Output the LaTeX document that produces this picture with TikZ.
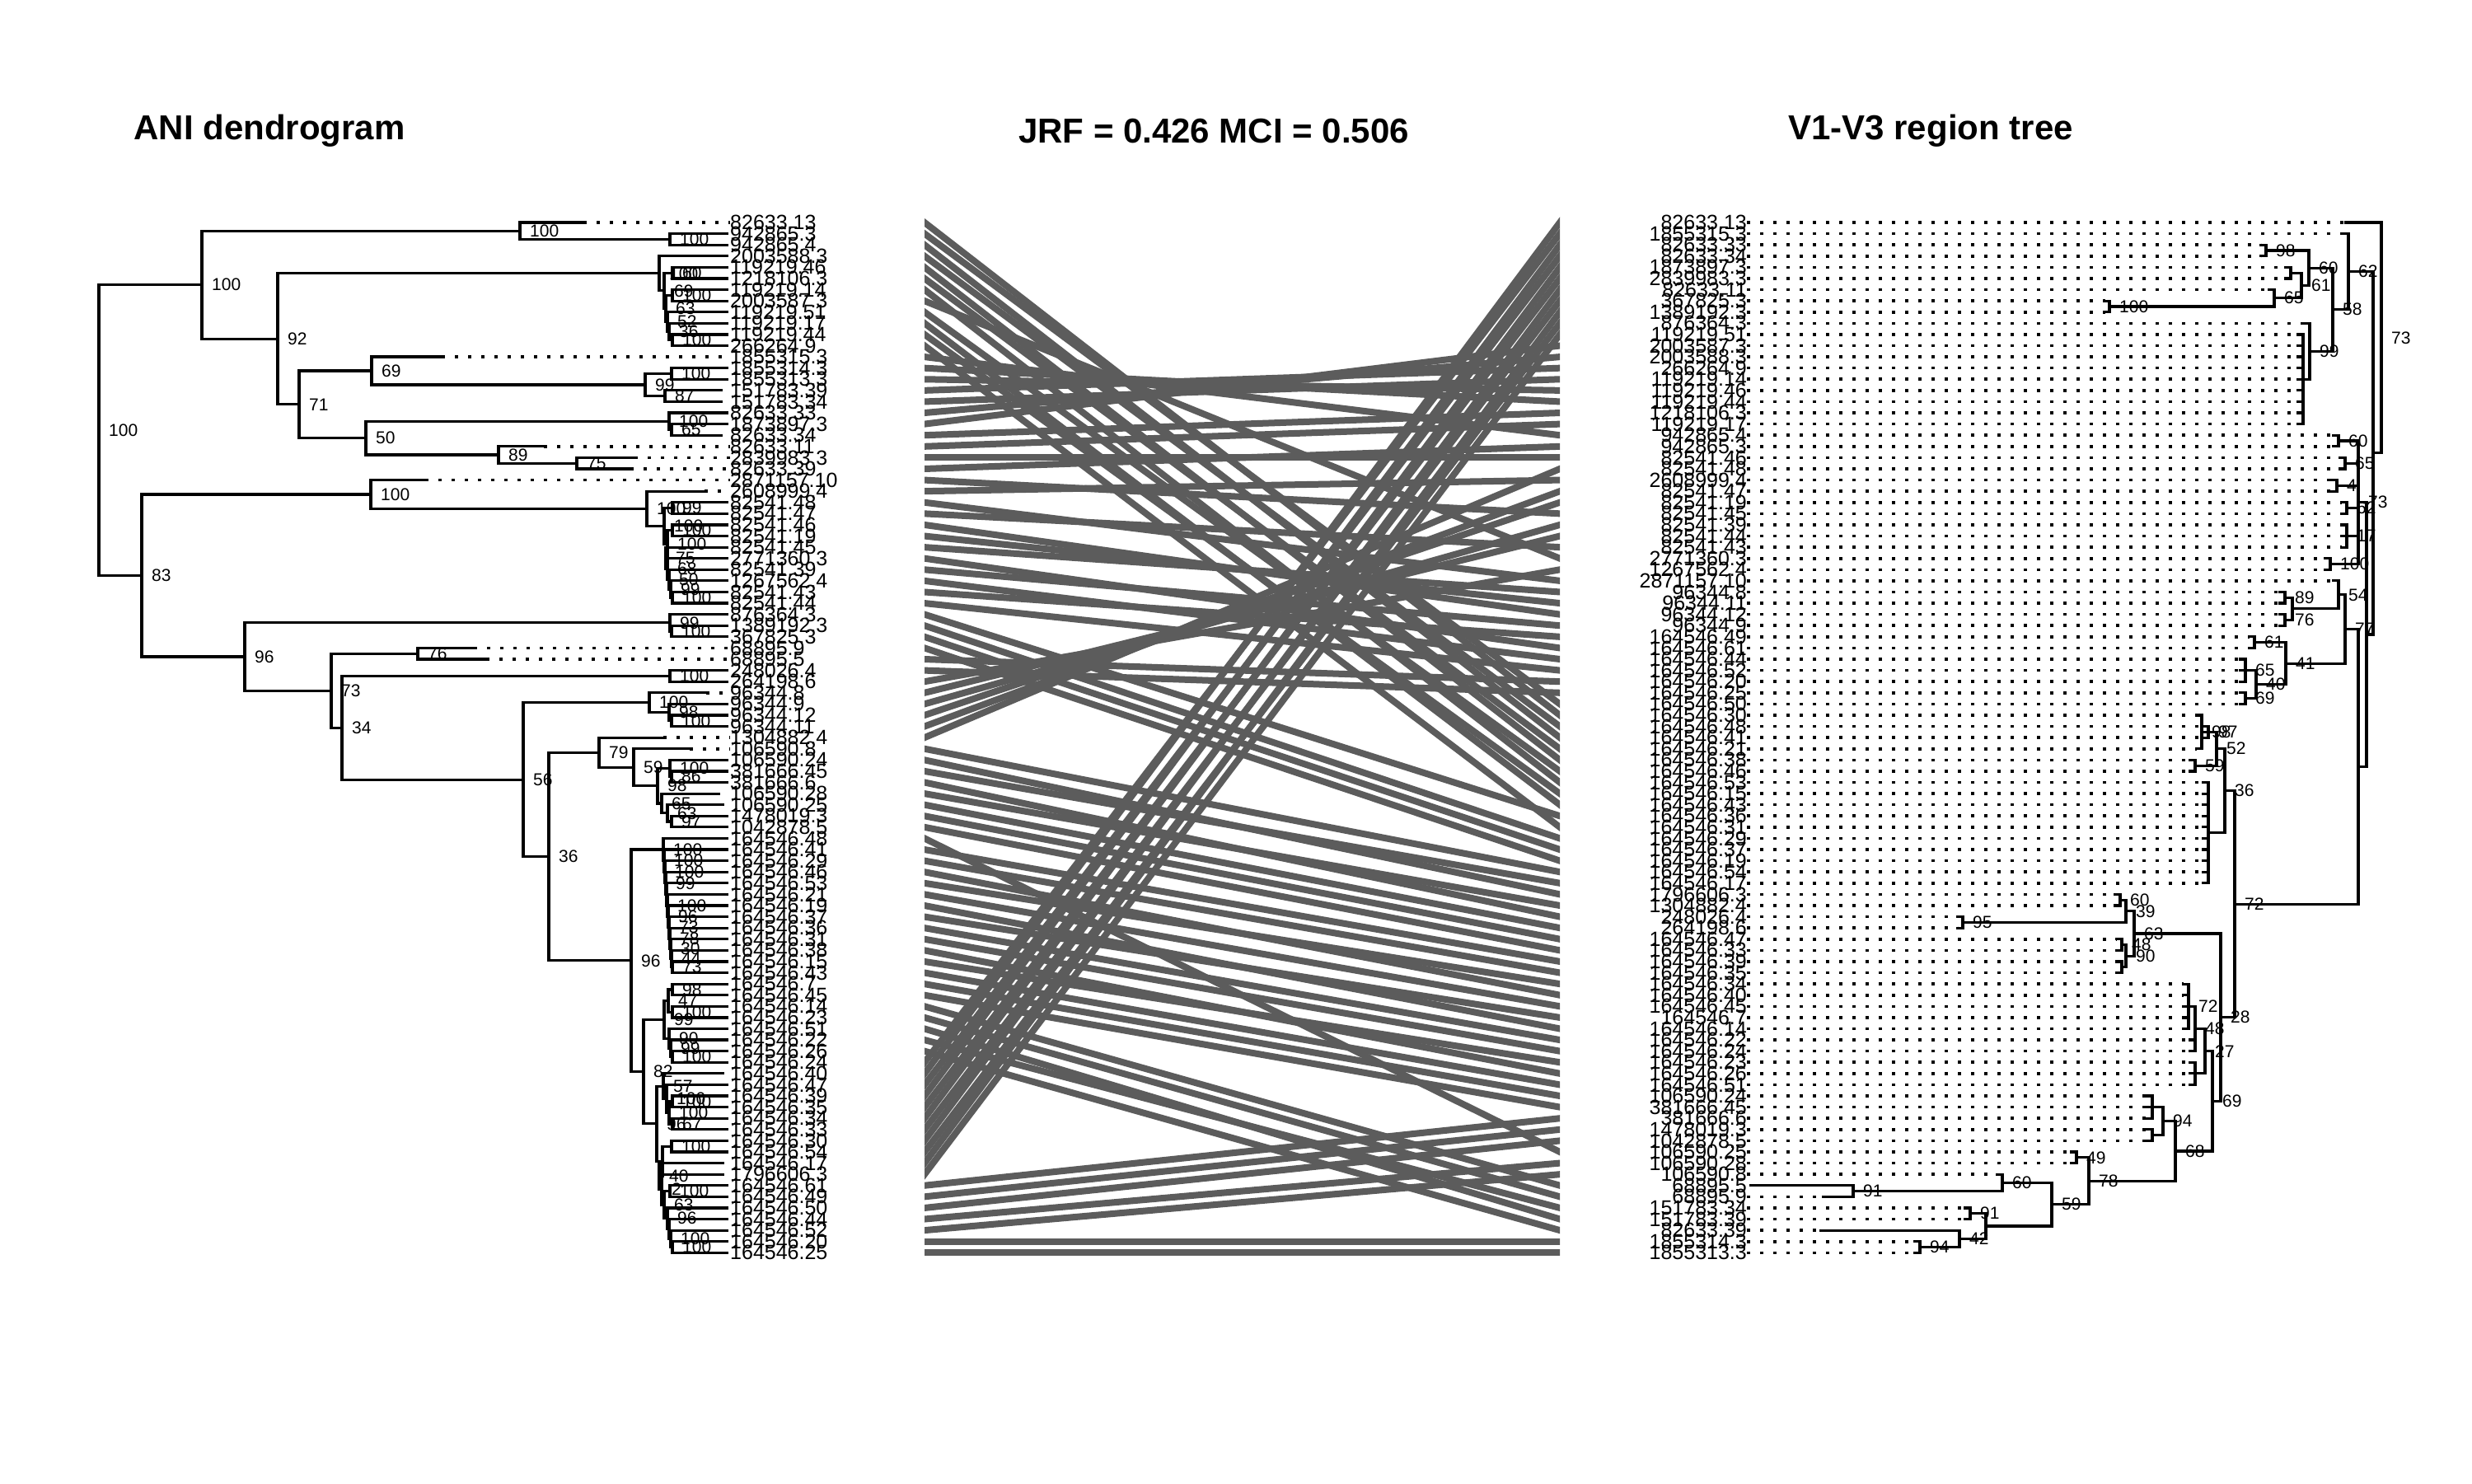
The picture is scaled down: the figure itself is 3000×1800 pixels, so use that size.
\documentclass[tikz,border=0pt]{standalone}
\usepackage{fontspec}
\setmainfont{Liberation Sans}
\usetikzlibrary{calc}
\definecolor{linkgray}{RGB}{92,92,92}
\tikzset{
  branch/.style={line width=3.2pt, line cap=rect},
  tipdots/.style={line width=3.6pt, dash pattern=on 3.6pt off 12.4pt},
  tiplab/.style={font=\fontsize{25}{25}\selectfont, inner sep=0pt},
  support/.style={font=\fontsize{21}{21}\selectfont, inner sep=0pt, anchor=west},
  link/.style={line width=8pt, draw=linkgray, shorten <=-14pt, shorten >=-14pt},
  paneltitle/.style={font=\fontsize{42}{42}\selectfont\bfseries}
}
\newcommand\lnode[6]{%
  \path let \p1=(#3), \p2=(#4) in coordinate (#1) at (#2pt,{0.5*(\y1+\y2)});
  \draw[branch] (#1 |- #3) -- (#1 |- #4);
  \foreach \c in {#5} {\draw[branch] (#1 |- \c) -- (\c);}
  \node[support] at ([xshift=12pt]#1) {#6};
}
\begin{document}
\begin{tikzpicture}[x=1pt, y=-1pt]
\useasboundingbox (0,0) rectangle (3000,1800);

\node[paneltitle] (t1) at (327,159) {ANI dendrogram};
\node[paneltitle] (t2) at (1473,159) {JRF = 0.426 MCI = 0.506};
\node[paneltitle] (t3) at (2343,159) {V1-V3 region tree};

\foreach \leafname/\leafx [count=\i] in {82633.13/708, 942865.3/882, 942865.4/882, 2003588.3/882, 119219.46/882, 1218106.3/882, 119219.14/882, 2003587.3/882, 119219.51/882, 119219.17/882, 119219.44/882, 266264.9/882, 1855315.3/536, 1855314.3/882, 1855313.3/882, 151783.39/875, 151783.34/875, 82633.33/882, 1873897.3/882, 82633.34/875, 82633.11/660, 2839983.3/770, 82633.39/765, 2871157.10/516, 2608999.4/855, 82541.48/882, 82541.47/882, 82541.46/882, 82541.19/882, 82541.45/882, 2771360.3/882, 82541.39/882, 1267562.4/882, 82541.43/882, 82541.44/882, 876364.3/882, 1389192.3/882, 367825.3/882, 68895.9/575, 68895.5/590, 248026.4/882, 264198.6/882, 96344.8/857, 96344.9/882, 96344.12/882, 96344.11/882, 1304882.4/805, 106590.8/837, 106590.24/882, 381666.45/882, 381666.6/882, 106590.28/872, 106590.25/877, 1478019.3/882, 1042878.5/882, 164546.48/882, 164546.41/882, 164546.29/882, 164546.46/882, 164546.53/882, 164546.21/882, 164546.19/882, 164546.37/882, 164546.36/882, 164546.31/882, 164546.38/882, 164546.15/882, 164546.43/882, 164546.7/882, 164546.45/882, 164546.14/882, 164546.23/882, 164546.51/882, 164546.22/882, 164546.26/882, 164546.24/882, 164546.40/877, 164546.47/882, 164546.39/882, 164546.35/882, 164546.34/882, 164546.33/882, 164546.30/882, 164546.54/882, 164546.17/877, 1796606.3/877, 164546.61/882, 164546.49/882, 164546.50/882, 164546.44/882, 164546.52/882, 164546.20/882, 164546.25/882}{
  \coordinate (l\i) at (\leafx,{270+13.59*(\i-1)});
  \coordinate (lend\i) at (1122,{270+13.59*(\i-1)});
  \node[tiplab, anchor=west] (ln\i) at (886,{270+13.59*(\i-1)}) {\leafname};
  \ifnum\leafx<870 \draw[tipdots] (l\i) -- (ln\i.west); \fi
}

\foreach \leafname/\leafx [count=\i] in {82633.13/2847, 1855315.3/2842, 82633.33/2744, 82633.34/2744, 1873897.3/2774, 2839983.3/2774, 82633.11/2754, 367825.3/2555, 1389192.3/2555, 876364.3/2797, 119219.51/2789, 2003587.3/2789, 2003588.3/2789, 266264.9/2789, 119219.14/2789, 119219.46/2789, 119219.44/2789, 1218106.3/2789, 119219.17/2789, 942865.4/2832, 942865.3/2832, 82541.46/2840, 82541.48/2840, 2608999.4/2830, 82541.47/2830, 82541.19/2842, 82541.45/2842, 82541.39/2842, 82541.44/2842, 82541.43/2842, 2771360.3/2822, 1267562.4/2822, 2871157.10/2832, 96344.8/2767, 96344.11/2767, 96344.12/2767, 96344.9/2767, 164546.49/2730, 164546.61/2730, 164546.44/2719, 164546.52/2719, 164546.20/2719, 164546.25/2719, 164546.50/2719, 164546.30/2666, 164546.48/2674, 164546.41/2674, 164546.21/2666, 164546.38/2658, 164546.46/2658, 164546.53/2674, 164546.15/2674, 164546.43/2674, 164546.36/2674, 164546.31/2674, 164546.29/2674, 164546.37/2674, 164546.19/2674, 164546.54/2674, 164546.17/2674, 1796606.3/2567, 1304882.4/2567, 248026.4/2376, 264198.6/2376, 164546.47/2569, 164546.33/2569, 164546.39/2569, 164546.35/2569, 164546.34/2650, 164546.40/2650, 164546.45/2650, 164546.7/2650, 164546.14/2650, 164546.22/2658, 164546.24/2658, 164546.23/2658, 164546.26/2658, 164546.51/2658, 106590.24/2606, 381666.45/2606, 381666.6/2606, 1478019.3/2606, 1042878.5/2606, 106590.25/2514, 106590.28/2514, 106590.8/2424, 68895.5/2125, 68895.9/2213, 151783.34/2385, 151783.39/2385, 82633.39/2210, 1855314.3/2324, 1855313.3/2324}{
  \coordinate (r\i) at (\leafx,{270+13.59*(\i-1)});
  \coordinate (rend\i) at (1893,{270+13.59*(\i-1)});
  \node[tiplab, anchor=east] (rn\i) at (2120,{270+13.59*(\i-1)}) {\leafname};
  \ifnum\leafx>2135 \draw[tipdots] (rn\i.east) -- (r\i); \fi
}

\lnode{a1}{813}{l2}{l3}{l2,l3}{100}
\lnode{a0}{631}{l1}{a1}{l1,a1}{100}
\lnode{b78}{816}{l7}{l8}{l7,l8}{100}
\lnode{b1112}{816}{l11}{l12}{l11,l12}{100}
\lnode{b10}{812}{l10}{b1112}{l10,b1112}{36}
\lnode{b9}{810}{l9}{b10}{l9,b10}{52}
\lnode{b7}{808}{b78}{b9}{b78,b9}{63}
\lnode{b56}{816}{l5}{l6}{l5,l6}{60}
\lnode{b5}{806}{b56}{b7}{b56,b7}{69}
\lnode{b4}{800}{l4}{b5}{l4,b5}{100}
\lnode{c1415}{815}{l14}{l15}{l14,l15}{100}
\lnode{c1617}{807}{l16}{l17}{l16,l17}{87}
\lnode{c14}{783}{c1415}{c1617}{c1415,c1617}{99}
\lnode{c13}{451}{l13}{c14}{l13,c14}{69}
\lnode{d1920}{815}{l19}{l20}{l19,l20}{65}
\lnode{d18}{812}{l18}{d1920}{l18,d1920}{100}
\lnode{d2223}{700}{l22}{l23}{l22,l23}{75}
\lnode{d21}{605}{l21}{d2223}{l21,d2223}{89}
\lnode{d50}{444}{d18}{d21}{d18,d21}{50}
\lnode{n71}{363}{c13}{d50}{c13,d50}{71}
\lnode{n92}{337}{b4}{n71}{b4,n71}{92}
\lnode{nA}{245}{a0}{n92}{a0,n92}{100}
\lnode{e3435}{816}{l34}{l35}{l34,l35}{100}
\lnode{e33}{814}{l33}{e3435}{l33,e3435}{99}
\lnode{e32}{812}{l32}{e33}{l32,e33}{50}
\lnode{e31}{810}{l31}{e32}{l31,e32}{68}
\lnode{e30}{808}{l30}{e31}{l30,e31}{75}
\lnode{e2829}{816}{l28}{l29}{l28,l29}{100}
\lnode{e28}{810}{e2829}{e30}{e2829,e30}{100}
\lnode{e2627}{816}{l26}{l27}{l26,l27}{99}
\lnode{e26}{806}{e2627}{e28}{e2627,e28}{100}
\lnode{e25}{785}{l25}{e26}{l25,e26}{100}
\lnode{e24}{450}{l24}{e25}{l24,e25}{100}
\lnode{f3738}{815}{l37}{l38}{l37,l38}{100}
\lnode{f36}{813}{l36}{f3738}{l36,f3738}{99}
\lnode{g3940}{507}{l39}{l40}{l39,l40}{76}
\lnode{g4142}{813}{l41}{l42}{l41,l42}{100}
\lnode{h4546}{815}{l45}{l46}{l45,l46}{100}
\lnode{h44}{812}{l44}{h4546}{l44,h4546}{98}
\lnode{h43}{788}{l43}{h44}{l43,h44}{100}
\lnode{k5051}{815}{l50}{l51}{l50,l51}{86}
\lnode{k49}{813}{l49}{k5051}{l49,k5051}{100}
\lnode{k5455}{815}{l54}{l55}{l54,l55}{97}
\lnode{k53}{810}{l53}{k5455}{l53,k5455}{63}
\lnode{k52}{803}{l52}{k53}{l52,k53}{65}
\lnode{k4955}{798}{k49}{k52}{k49,k52}{98}
\lnode{k59}{769}{l48}{k4955}{l48,k4955}{59}
\lnode{k79}{727}{l47}{k59}{l47,k59}{79}
\lnode{m6768}{816}{l67}{l68}{l67,l68}{73}
\lnode{m66}{815}{l66}{m6768}{l66,m6768}{44}
\lnode{m65}{814}{l65}{m66}{l65,m66}{30}
\lnode{m64}{813}{l64}{m65}{l64,m65}{78}
\lnode{m63}{812}{l63}{m64}{l63,m64}{73}
\lnode{m62}{811}{l62}{m63}{l62,m63}{96}
\lnode{m61}{810}{l61}{m62}{l61,m62}{100}
\lnode{m60}{809}{l60}{m61}{l60,m61}{}
\lnode{m59}{808}{l59}{m60}{l59,m60}{99}
\lnode{m58}{807}{l58}{m59}{l58,m59}{100}
\lnode{m57}{806}{l57}{m58}{l57,m58}{100}
\lnode{m56}{805}{l56}{m57}{l56,m57}{100}
\lnode{q6970}{816}{l69}{l70}{l69,l70}{98}
\lnode{q7172}{816}{l71}{l72}{l71,l72}{100}
\lnode{q69}{811}{q6970}{q7172}{q6970,q7172}{47}
\lnode{q7576}{816}{l75}{l76}{l75,l76}{100}
\lnode{q74}{814}{l74}{q7576}{l74,q7576}{99}
\lnode{q73}{812}{l73}{q74}{l73,q74}{90}
\lnode{q6976}{806}{q69}{q73}{q69,q73}{99}
\lnode{s8182}{816}{l81}{l82}{l81,l82}{67}
\lnode{s7980}{816}{l79}{l80}{l79,l80}{100}
\lnode{s79}{812}{s7980}{s8182}{s7980,s8182}{100}
\lnode{s78}{809}{l78}{s79}{l78,s79}{100}
\lnode{s77}{805}{l77}{s78}{l77,s78}{57}
\lnode{t8384}{815}{l83}{l84}{l83,l84}{100}
\lnode{t9293}{816}{l92}{l93}{l92,l93}{100}
\lnode{t91}{814}{l91}{t9293}{l91,t9293}{100}
\lnode{t90}{812}{l90}{t91}{l90,t91}{}
\lnode{t89}{810}{l89}{t90}{l89,t90}{96}
\lnode{t8788}{813}{l87}{l88}{l87,l88}{100}
\lnode{t87}{806}{t8788}{t89}{t8788,t89}{63}
\lnode{t86}{803}{l86}{t87}{l86,t87}{2}
\lnode{t85}{800}{l85}{t86}{l85,t86}{40}
\lnode{t83}{804}{t8384}{t85}{t8384,t85}{}
\lnode{n96b}{797}{s77}{t83}{s77,t83}{96}
\lnode{n82}{781}{q6976}{n96b}{q6976,n96b}{82}
\lnode{n96}{766}{m56}{n82}{m56,n82}{96}
\lnode{n36}{666}{k79}{n96}{k79,n96}{36}
\lnode{n56}{635}{h43}{n36}{h43,n36}{56}
\lnode{n34}{415}{g4142}{n56}{g4142,n56}{34}
\lnode{n73}{402}{g3940}{n34}{g3940,n34}{73}
\lnode{n96D}{297}{f36}{n73}{f36,n73}{96}
\lnode{nB}{172}{e24}{n96D}{e24,n96D}{83}
\lnode{root}{120}{nA}{nB}{nA,nB}{100}

\lnode{u98}{2750}{r3}{r4}{r3,r4}{98}
\lnode{u56}{2780}{r5}{r6}{r5,r6}{}
\lnode{u100}{2560}{r8}{r9}{r8,r9}{100}
\lnode{u65}{2760}{r7}{u100}{r7,u100}{65}
\lnode{u61}{2793}{u56}{u65}{u56,u65}{61}
\lnode{u60}{2802}{u98}{u61}{u98,u61}{60}
\lnode{u1119}{2795}{r11}{r19}{r11,r12,r13,r14,r15,r16,r17,r18,r19}{}
\lnode{u99}{2803}{r10}{u1119}{r10,u1119}{99}
\lnode{u58}{2831}{u60}{u99}{u60,u99}{58}
\lnode{u62}{2850}{r2}{u58}{r2,u58}{62}
\lnode{z2021}{2838}{r20}{r21}{r20,r21}{60}
\lnode{z2223}{2846}{r22}{r23}{r22,r23}{65}
\lnode{z2425}{2836}{r24}{r25}{r24,r25}{4}
\lnode{z2627}{2848}{r26}{r27}{r26,r27}{62}
\lnode{z2830}{2848}{r28}{r30}{r28,r29,r30}{17}
\lnode{z3132}{2828}{r31}{r32}{r31,r32}{100}
\lnode{z73}{2862}{z2021}{z3132}{z2021,z2223,z2425,z2627,z2830,z3132}{73}
\lnode{u89}{2773}{r34}{r35}{r34,r35}{89}
\lnode{u76}{2773}{r36}{r37}{r36,r37}{76}
\lnode{u9634}{2782}{u89}{u76}{u89,u76}{}
\lnode{u54}{2838}{r33}{u9634}{r33,u9634}{54}
\lnode{v3839}{2736}{r38}{r39}{r38,r39}{61}
\lnode{v4042}{2725}{r40}{r42}{r40,r41,r42}{65}
\lnode{v4344}{2725}{r43}{r44}{r43,r44}{69}
\lnode{v40}{2738}{v4042}{v4344}{v4042,v4344}{40}
\lnode{v41}{2774}{v3839}{v40}{v3839,v40}{41}
\lnode{u77}{2846}{u54}{v41}{u54,v41}{77}
\lnode{v4647}{2680}{r46}{r47}{r46,r47}{97}
\lnode{v4548}{2672}{r45}{r48}{r45,v4647,r48}{98}
\lnode{v4950}{2664}{r49}{r50}{r49,r50}{59}
\lnode{v52}{2690}{v4548}{v4950}{v4548,v4950}{52}
\lnode{v5160}{2680}{r51}{r60}{r51,r52,r53,r54,r55,r56,r57,r58,r59,r60}{}
\lnode{v36}{2700}{v52}{v5160}{v52,v5160}{36}
\lnode{w6162}{2573}{r61}{r62}{r61,r62}{60}
\lnode{w6364}{2382}{r63}{r64}{r63,r64}{95}
\lnode{w39}{2580}{w6162}{w6364}{w6162,w6364}{39}
\lnode{w6566}{2575}{r65}{r66}{r65,r66}{48}
\lnode{w6768}{2575}{r67}{r68}{r67,r68}{}
\lnode{w90}{2580}{w6566}{w6768}{w6566,w6768}{90}
\lnode{w63}{2590}{w39}{w90}{w39,w90}{63}
\lnode{x6973}{2656}{r69}{r73}{r69,r70,r71,r72,r73}{72}
\lnode{x6975}{2664}{x6973}{r75}{x6973,r74,r75}{48}
\lnode{x7678}{2664}{r76}{r78}{r76,r77,r78}{}
\lnode{x6978}{2676}{x6975}{x7678}{x6975,x7678}{27}
\lnode{y7981}{2612}{r79}{r81}{r79,r80,r81}{}
\lnode{y8283}{2612}{r82}{r83}{r82,r83}{}
\lnode{y94}{2625}{y7981}{y8283}{y7981,y8283}{94}
\lnode{y8485}{2520}{r84}{r85}{r84,r85}{49}
\lnode{y8788}{2249}{r87}{r88}{r87,r88}{91}
\lnode{y60}{2430}{r86}{y8788}{r86,y8788}{60}
\lnode{y8990}{2391}{r89}{r90}{r89,r90}{91}
\lnode{y9293}{2330}{r92}{r93}{r92,r93}{94}
\lnode{y42}{2378}{r91}{y9293}{r91,y9293}{42}
\lnode{y8993}{2410}{y8990}{y42}{y8990,y42}{}
\lnode{y59}{2490}{y60}{y8993}{y60,y8993}{59}
\lnode{y78}{2535}{y8485}{y59}{y8485,y59}{78}
\lnode{y68}{2640}{y94}{y78}{y94,y78}{68}
\lnode{y69}{2685}{x6978}{y68}{x6978,y68}{69}
\lnode{y28}{2695}{w63}{y69}{w63,y69}{28}
\lnode{v72}{2712}{v36}{y28}{v36,y28}{72}
\lnode{vV}{2862}{u77}{v72}{u77,v72}{}
\lnode{wW}{2872}{z73}{vV}{z73,vV}{}
\lnode{xX}{2880}{u62}{wW}{u62,wW}{}
\lnode{uroot}{2890}{r1}{xX}{r1,xX}{73}

\begin{scope}
\clip (1122,0) rectangle (1893,1800);
\foreach \a/\b in {1/45, 2/44, 3/47, 4/46, 5/49, 6/48, 7/51, 8/31, 9/50, 10/53, 11/52, 12/55, 13/20, 14/17, 15/16, 16/14, 17/15, 18/13, 19/12, 20/18, 21/19, 22/22, 23/21, 24/27, 25/24, 26/33, 27/30, 28/36, 29/35, 30/34, 31/39, 32/37, 33/40, 34/38, 35/41, 36/54, 37/56, 38/57, 39/58, 40/42, 41/43, 42/32, 43/29, 44/28, 45/26, 46/25, 47/23, 48/59, 49/61, 50/60, 51/63, 52/62, 53/64, 54/65, 55/66, 56/84, 57/67, 58/68, 59/70, 60/69, 61/71, 62/73, 63/72, 64/74, 65/75, 66/77, 67/76, 68/78, 69/79, 70/80, 71/87, 72/88, 73/90, 74/89, 75/91, 76/2, 77/1, 78/4, 79/3, 80/6, 81/5, 82/8, 83/7, 84/10, 85/9, 86/11, 87/81, 88/82, 89/83, 90/85, 91/86, 92/92, 93/93}
  \draw[link] (lend\a) -- (rend\b);
\end{scope}
\end{tikzpicture}
\end{document}
